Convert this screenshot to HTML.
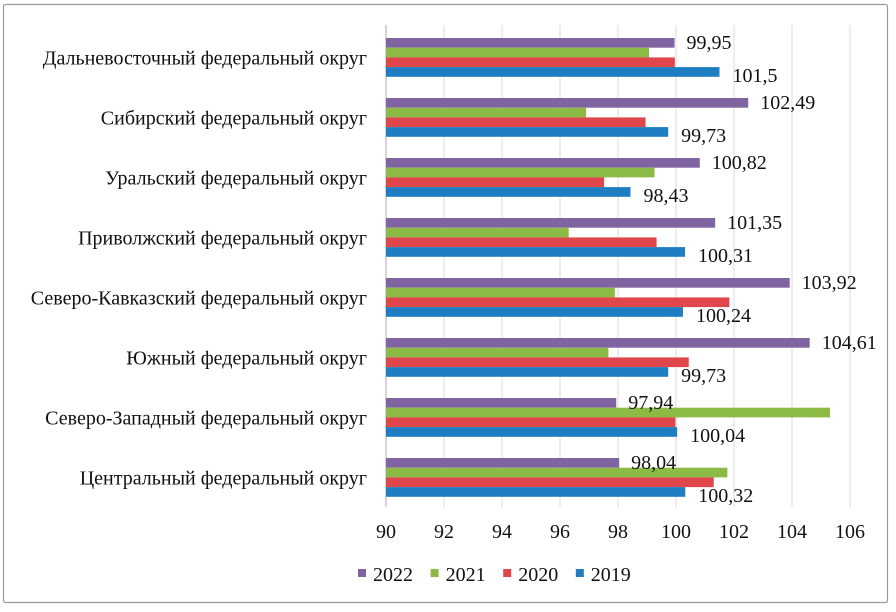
<!DOCTYPE html>
<html><head><meta charset="utf-8">
<style>
html,body{margin:0;padding:0;background:#fff;}
svg{display:block;font-family:"Liberation Serif","DejaVu Serif",serif;}
</style></head>
<body>
<svg id="chart" width="896" height="612" viewBox="0 0 896 612">
<rect x="3.5" y="4.5" width="884" height="598" rx="2" fill="#fff" stroke="#9a9a9a" stroke-width="1.2"/>
<g id="grid"></g>
<g id="bars"></g>
<g id="labels"></g>
<g id="legend"></g>
</svg>
<script>
const categories = ["Дальневосточный федеральный округ","Сибирский федеральный округ","Уральский федеральный округ","Приволжский федеральный округ","Северо-Кавказский федеральный округ","Южный федеральный округ ","Северо-Западный федеральный округ","Центральный федеральный округ"];
const seriesNames = ["2022","2021","2020","2019"];
const v2022 = [99.95,102.49,100.82,101.35,103.92,104.61,97.94,98.04];
const v2021 = [99.07,96.9,99.26,96.3,97.89,97.67,105.31,101.77];
const v2020 = [99.96,98.95,97.52,99.33,101.84,100.44,99.98,101.3];
const v2019 = [101.5,99.73,98.43,100.31,100.24,99.73,100.04,100.32];
const label2022 = ["99,95","102,49","100,82","101,35","103,92","104,61","97,94","98,04"];
const label2019 = ["101,5","99,73","98,43","100,31","100,24","99,73","100,04","100,32"];
const ticks = [90,92,94,96,98,100,102,104,106];
const tickLabels = ["90","92","94","96","98","100","102","104","106"];

const colors = ["#8064a2","#8cbb45","#e0474c","#1f7dc2"];
const NS = "http://www.w3.org/2000/svg";
const x0 = 386, pxPer = 29, plotTop = 27.5, band = 60, barH = 9.7, groupOff = 10.5;
const FS = 20;
function xs(v){ return x0 + (v - 90) * pxPer; }
function ys(i){ return plotTop + i * band; }
function mk(tag, attrs, parent){
  const e = document.createElementNS(NS, tag);
  for (const k in attrs) e.setAttribute(k, attrs[k]);
  parent.appendChild(e);
  return e;
}
const grid = document.getElementById('grid');
const bars = document.getElementById('bars');
const labels = document.getElementById('labels');
const legend = document.getElementById('legend');

ticks.forEach((t, i) => {
  const l = mk('line', {x1: xs(t), x2: xs(t), y1: 25, y2: 507, stroke: i === 0 ? '#bfbfbf' : '#e3e3e3', 'stroke-width': 1.3}, grid);
  
  
  const tx = mk('text', {x: xs(t), y: 538, 'text-anchor': 'middle', 'font-size': FS, fill: '#111'}, grid);
  tx.textContent = tickLabels[i];
  
  
});

const all = [v2022, v2021, v2020, v2019];
categories.forEach((c, i) => {
  const top = ys(i) + groupOff;
  all.forEach((arr, s) => {
    const r = mk('rect', {x: x0, y: top + s * barH, width: Math.max(0, xs(arr[i]) - x0), height: barH, fill: colors[s]}, bars);
    
    
  });
  const cl = mk('text', {x: 367, y: ys(i) + band / 2 + 7, 'text-anchor': 'end', 'font-size': FS, fill: '#111'}, labels);
  cl.textContent = c;
  
  
  const l1 = mk('text', {x: xs(v2022[i]) + 12, y: top + 11, 'font-size': FS, fill: '#111'}, labels);
  l1.textContent = label2022[i];
  
  
  const l2 = mk('text', {x: xs(v2019[i]) + 13, y: top + 3 * barH + 15, 'font-size': FS, fill: '#111'}, labels);
  l2.textContent = label2019[i];
  
  
});

seriesNames.forEach((n, s) => {
  const bx = 358 + s * 72.6;
  const sq = mk('rect', {x: bx, y: 569, width: 8, height: 8, fill: colors[s]}, legend);
  
  
  const t = mk('text', {x: bx + 15, y: 581, 'font-size': FS, fill: '#111'}, legend);
  t.textContent = n;
  
  
});
</script>
</body></html>
